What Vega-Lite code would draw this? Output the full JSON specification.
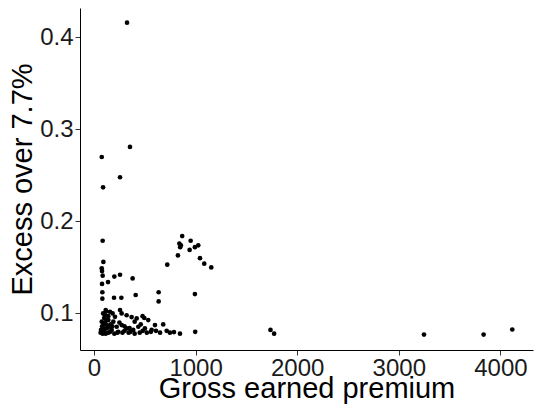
{
  "$schema": "https://vega.github.io/schema/vega-lite/v6.json",
  "width": 453,
  "height": 342,
  "autosize": {"type": "none"},
  "padding": {"left": 80, "top": 8, "right": 1, "bottom": 56},
  "background": "white",
  "config": {
    "view": {"stroke": null},
    "font": "Liberation Sans",
    "axis": {
      "grid": false,
      "domainColor": "#000000",
      "domainWidth": 1,
      "tickColor": "#333333",
      "tickSize": 5,
      "labelColor": "#1a1a1a",
      "labelFont": "Liberation Sans",
      "labelFontSize": 24,
      "titleFont": "Liberation Sans",
      "titleFontSize": 29,
      "titleFontWeight": "normal",
      "titleColor": "#000000"
    }
  },
  "data": {
    "values": [
      {"gep": 325, "excess": 0.416},
      {"gep": 354, "excess": 0.281},
      {"gep": 76, "excess": 0.270},
      {"gep": 256, "excess": 0.248},
      {"gep": 89, "excess": 0.237},
      {"gep": 85, "excess": 0.179},
      {"gep": 868, "excess": 0.184},
      {"gep": 840, "excess": 0.176},
      {"gep": 855, "excess": 0.174},
      {"gep": 848, "excess": 0.172},
      {"gep": 951, "excess": 0.179},
      {"gep": 941, "excess": 0.169},
      {"gep": 993, "excess": 0.172},
      {"gep": 1026, "excess": 0.174},
      {"gep": 1043, "excess": 0.160},
      {"gep": 1085, "excess": 0.154},
      {"gep": 1154, "excess": 0.150},
      {"gep": 826, "excess": 0.163},
      {"gep": 721, "excess": 0.153},
      {"gep": 92, "excess": 0.156},
      {"gep": 76, "excess": 0.149},
      {"gep": 79, "excess": 0.146},
      {"gep": 85, "excess": 0.141},
      {"gep": 200, "excess": 0.140},
      {"gep": 256, "excess": 0.142},
      {"gep": 380, "excess": 0.138},
      {"gep": 138, "excess": 0.134},
      {"gep": 79, "excess": 0.132},
      {"gep": 82, "excess": 0.123},
      {"gep": 82, "excess": 0.116},
      {"gep": 197, "excess": 0.117},
      {"gep": 269, "excess": 0.117},
      {"gep": 410, "excess": 0.120},
      {"gep": 636, "excess": 0.123},
      {"gep": 636, "excess": 0.113},
      {"gep": 993, "excess": 0.121},
      {"gep": 1737, "excess": 0.082},
      {"gep": 1773, "excess": 0.078},
      {"gep": 3248, "excess": 0.077},
      {"gep": 3835, "excess": 0.077},
      {"gep": 4117, "excess": 0.0825},
      {"gep": 996, "excess": 0.080},
      {"gep": 846, "excess": 0.078},
      {"gep": 787, "excess": 0.0797},
      {"gep": 747, "excess": 0.079},
      {"gep": 715, "excess": 0.081},
      {"gep": 115, "excess": 0.1036},
      {"gep": 157, "excess": 0.1017},
      {"gep": 256, "excess": 0.1036},
      {"gep": 272, "excess": 0.100},
      {"gep": 321, "excess": 0.098},
      {"gep": 370, "excess": 0.096},
      {"gep": 420, "excess": 0.0945},
      {"gep": 478, "excess": 0.097},
      {"gep": 495, "excess": 0.095},
      {"gep": 534, "excess": 0.0927},
      {"gep": 600, "excess": 0.0873},
      {"gep": 681, "excess": 0.088},
      {"gep": 567, "excess": 0.082},
      {"gep": 501, "excess": 0.0837},
      {"gep": 436, "excess": 0.0855},
      {"gep": 386, "excess": 0.082},
      {"gep": 321, "excess": 0.0837},
      {"gep": 76, "excess": 0.091},
      {"gep": 92, "excess": 0.0837},
      {"gep": 69, "excess": 0.082},
      {"gep": 141, "excess": 0.0927},
      {"gep": 190, "excess": 0.091},
      {"gep": 223, "excess": 0.0855},
      {"gep": 174, "excess": 0.082},
      {"gep": 125, "excess": 0.0837},
      {"gep": 239, "excess": 0.080},
      {"gep": 272, "excess": 0.0873},
      {"gep": 108, "excess": 0.098},
      {"gep": 206, "excess": 0.0963},
      {"gep": 118, "excess": 0.102},
      {"gep": 183, "excess": 0.100},
      {"gep": 65, "excess": 0.079},
      {"gep": 85, "excess": 0.078},
      {"gep": 100, "excess": 0.080},
      {"gep": 115, "excess": 0.078},
      {"gep": 140, "excess": 0.079},
      {"gep": 160, "excess": 0.080},
      {"gep": 200, "excess": 0.078},
      {"gep": 230, "excess": 0.079},
      {"gep": 280, "excess": 0.079},
      {"gep": 300, "excess": 0.081},
      {"gep": 340, "excess": 0.079},
      {"gep": 360, "excess": 0.080},
      {"gep": 400, "excess": 0.078},
      {"gep": 450, "excess": 0.079},
      {"gep": 480, "excess": 0.081},
      {"gep": 520, "excess": 0.079},
      {"gep": 560, "excess": 0.080},
      {"gep": 610, "excess": 0.081},
      {"gep": 650, "excess": 0.079},
      {"gep": 80, "excess": 0.086},
      {"gep": 95, "excess": 0.088},
      {"gep": 110, "excess": 0.090},
      {"gep": 130, "excess": 0.087},
      {"gep": 150, "excess": 0.085},
      {"gep": 165, "excess": 0.088},
      {"gep": 180, "excess": 0.086},
      {"gep": 100, "excess": 0.095},
      {"gep": 120, "excess": 0.093},
      {"gep": 90, "excess": 0.100},
      {"gep": 140, "excess": 0.097},
      {"gep": 250, "excess": 0.090},
      {"gep": 300, "excess": 0.086},
      {"gep": 350, "excess": 0.084},
      {"gep": 460, "excess": 0.088},
      {"gep": 400, "excess": 0.091}
    ]
  },
  "mark": {"type": "circle", "color": "#000000", "opacity": 1, "size": 22},
  "encoding": {
    "x": {
      "field": "gep",
      "type": "quantitative",
      "title": "Gross earned premium",
      "scale": {"domain": [-138, 4321], "nice": false, "zero": false},
      "axis": {"values": [0, 1000, 2000, 3000, 4000], "format": "d", "labelPadding": 1, "titlePadding": -6}
    },
    "y": {
      "field": "excess",
      "type": "quantitative",
      "title": "Excess over 7.7%",
      "scale": {"domain": [0.0602, 0.432], "nice": false, "zero": false},
      "axis": {"values": [0.1, 0.2, 0.3, 0.4], "format": ".1f", "labelPadding": 2, "titlePadding": 2}
    }
  }
}
